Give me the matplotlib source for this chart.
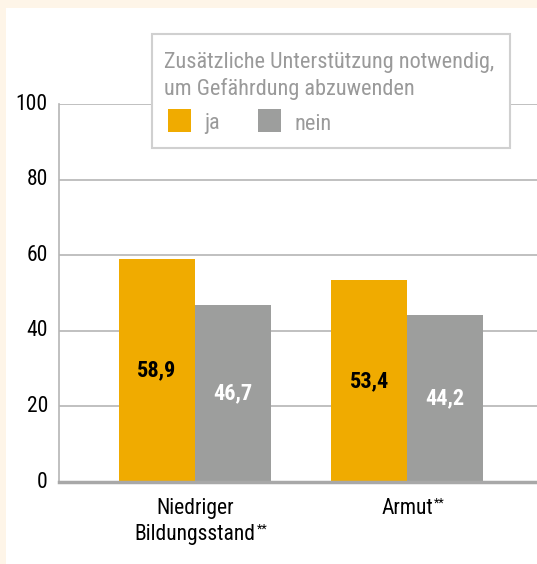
import matplotlib
matplotlib.use("Agg")
import matplotlib.pyplot as plt
from matplotlib.patches import Rectangle
from matplotlib import font_manager

categories = ["Niedriger\nBildungsstand", "Armut"]
category_marks = ["**", "**"]
ja_values = [58.9, 53.4]
nein_values = [46.7, 44.2]
series_names = ["ja", "nein"]
yticks = [0, 20, 40, 60, 80, 100]
legend_title = "Zusätzliche Unterstützung notwendig,\num Gefährdung abzuwenden"

names = {f.name for f in font_manager.fontManager.ttflist}
fam = [f for f in ["Liberation Sans Narrow", "Roboto Condensed", "Roboto", "DejaVu Sans"] if f in names]
plt.rcParams['font.family'] = fam

ORANGE = "#F0AB00"
GRAY = "#9D9E9D"
CREAM = "#FEF5E8"

W, H = 537, 564
fig = plt.figure(figsize=(W/100, H/100), dpi=100)
fig.patch.set_facecolor(CREAM)
fig.add_artist(Rectangle((6/W, 0), 1 - 6/W, 1 - 8/H, transform=fig.transFigure,
                         facecolor="white", edgecolor="none", zorder=0))

ax = fig.add_axes([59/W, 1 - 482/H, (537-59)/W, (482-104)/H])
ax.set_facecolor("none")
x = [0, 1]
bw = 0.358
ax.bar([i - bw/2 for i in x], ja_values, bw, color=ORANGE, zorder=3, label=series_names[0])
ax.bar([i + bw/2 for i in x], nein_values, bw, color=GRAY, zorder=3, label=series_names[1])
for i, v in enumerate(ja_values):
    ax.text(x[i] - bw/2, v/2, f"{v:.1f}".replace(".", ","), ha="center", va="center",
            fontsize=16, fontweight="bold", color="black", zorder=4)
for i, v in enumerate(nein_values):
    ax.text(x[i] + bw/2, v/2, f"{v:.1f}".replace(".", ","), ha="center", va="center",
            fontsize=16, fontweight="bold", color="white", zorder=4)

ax.set_xlim(-0.6415, 1.613)
ax.set_ylim(0, 100)
ax.set_yticks(yticks)
ax.set_yticklabels([str(t) for t in yticks])
ax.yaxis.grid(True, color="#B5B5B5", linewidth=1.2, zorder=1)
ax.set_axisbelow(True)
ax.tick_params(axis="y", length=0, pad=8, labelsize=15.5)
ax.set_xticks(x)
ax.set_xticklabels([""] * len(x))
ax.tick_params(axis="x", length=0)
for lbl in ax.get_yticklabels():
    lbl.set_verticalalignment("center")
for s in ["top", "right"]:
    ax.spines[s].set_visible(False)
ax.spines["left"].set_color("#B5B5B5")
ax.spines["left"].set_linewidth(1.2)
ax.spines["bottom"].set_color("#A8A8A8")
ax.spines["bottom"].set_linewidth(2.5)
ax.spines["bottom"].set_zorder(5)

# category labels with small superscript marks
xt = ax.get_xaxis_transform()
cat_texts = []
for i, c in enumerate(categories):
    t = ax.text(x[i], -0.042, c, transform=xt, ha="center", va="top", fontsize=15.5,
                linespacing=1.3, color="black")
    cat_texts.append(t)
fig.canvas.draw()
r = fig.canvas.get_renderer()
for t, m in zip(cat_texts, category_marks):
    bb = t.get_window_extent(r)
    lines = t.get_text().split("\n")
    tmp = fig.text(0, 0, lines[-1], fontsize=15.5)
    ext = tmp.get_window_extent(r)
    tmp.remove()
    cx = (bb.x0 + bb.x1) / 2
    xr = cx + ext.width / 2
    ytop = bb.y0 + ext.height
    fig.text((xr + 1) / W, (ytop + 1) / H, m, fontsize=9, ha="left", va="top", color="black")

# legend box
lx0, lx1, ly0, ly1 = 152, 510, 34, 148
fig.add_artist(Rectangle((lx0/W, 1 - ly1/H), (lx1-lx0)/W, (ly1-ly0)/H, transform=fig.transFigure,
                         facecolor="white", edgecolor="#D0D0D0", linewidth=1.5, zorder=10))
fig.text(164/W, 1 - 52/H, legend_title, ha="left", va="top", fontsize=16,
         color="#9A9A9A", linespacing=1.3, zorder=11)
for j, (name, col) in enumerate(zip(series_names, [ORANGE, GRAY])):
    sx = [168, 258][j]
    fig.add_artist(Rectangle((sx/W, 1 - 132/H), 23/W, 23/H, transform=fig.transFigure,
                             facecolor=col, edgecolor="none", zorder=11))
    fig.text((sx + 36)/W, 1 - 124/H, name, ha="left", va="center", fontsize=16,
             color="#9A9A9A", zorder=11)

fig.savefig("out.png", dpi=100, facecolor=CREAM)
